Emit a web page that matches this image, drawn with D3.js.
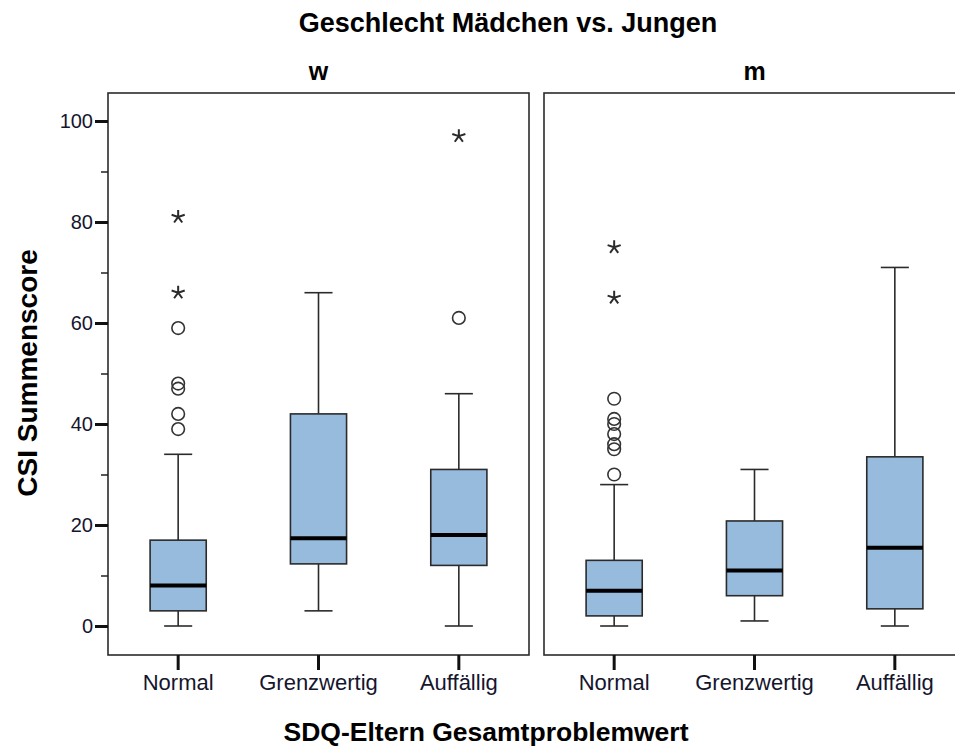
<!DOCTYPE html>
<html>
<head>
<meta charset="utf-8">
<script src="https://cdn.jsdelivr.net/npm/d3@7"></script>
<style>
  body { margin: 0; background: #fff; }
  svg text { font-family: Arial, "Liberation Sans", sans-serif; }
</style>
</head>
<body>
<svg id="chart" width="955" height="749"></svg>
<script>
// categories and panels
const categories = ['Normal', 'Grenzwertig', 'Auffällig'];
const panelKeys = ['w', 'm'];

// w (Mädchen)
const lowW = [0, 3, 0];
const q1W = [3, 12.3, 12];
const medW = [8, 17.4, 18];
const q3W = [17, 42, 31];
const highW = [34, 66, 46];
const circlesW = [[39, 42, 47, 48, 59], [], [61]];
const starsW = [[66, 81], [], [97]];

// m (Jungen)
const lowM = [0, 1, 0];
const q1M = [2, 6, 3.4];
const medM = [7, 11, 15.5];
const q3M = [13, 20.8, 33.5];
const highM = [28, 31, 71];
const circlesM = [[30, 35, 36, 38, 40, 41, 45], [], []];
const starsM = [[65, 75], [], []];

const yMajorTicks = [0, 20, 40, 60, 80, 100];
const yMinorTicks = [10, 30, 50, 70, 90];

const svg = d3.select('#chart');

const panelW = 421;
const panelTop = 93, panelBottom = 655;
const panelX = { w: 108, m: 544 };

const y = d3.scaleLinear().domain([0, 100]).range([626, 121]);
const x = d3.scaleBand().domain(categories).range([0, panelW]);
const boxW = x.bandwidth() * 0.4;

// 5-armed asterisk for extreme values
const asterisk = {
  draw(ctx, size) {
    const r = Math.sqrt(size) / 2;
    for (let i = 0; i < 5; i++) {
      const a = -Math.PI / 2 + i * 2 * Math.PI / 5;
      ctx.moveTo(0, 0);
      ctx.lineTo(r * Math.cos(a), r * Math.sin(a));
    }
  }
};

function buildRows(low, q1, med, q3, high, circles, stars) {
  return categories.map((c, i) => ({
    cat: c, low: low[i], q1: q1[i], med: med[i], q3: q3[i], high: high[i],
    circles: circles[i], stars: stars[i]
  }));
}

const panelData = {
  w: buildRows(lowW, q1W, medW, q3W, highW, circlesW, starsW),
  m: buildRows(lowM, q1M, medM, q3M, highM, circlesM, starsM)
};

// titles
svg.append('text')
  .attr('x', 508).attr('y', 32)
  .attr('text-anchor', 'middle')
  .attr('font-size', 27).attr('font-weight', 'bold')
  .text('Geschlecht Mädchen vs. Jungen');

svg.append('text')
  .attr('x', 486).attr('y', 741)
  .attr('text-anchor', 'middle')
  .attr('font-size', 26.5).attr('font-weight', 'bold')
  .text('SDQ-Eltern Gesamtproblemwert');

svg.append('text')
  .attr('transform', 'translate(37,373) rotate(-90)')
  .attr('text-anchor', 'middle')
  .attr('font-size', 28).attr('font-weight', 'bold')
  .text('CSI Summenscore');

panelKeys.forEach((key, pi) => {
  const g = svg.append('g').attr('transform', `translate(${panelX[key]},0)`);

  g.append('text')
    .attr('x', panelW / 2).attr('y', 80)
    .attr('text-anchor', 'middle')
    .attr('font-size', 25).attr('font-weight', 'bold')
    .text(key);

  g.append('rect')
    .attr('x', 0).attr('y', panelTop)
    .attr('width', panelW).attr('height', panelBottom - panelTop)
    .attr('fill', 'none').attr('stroke', '#2b2b2b').attr('stroke-width', 1.6);

  // x axis
  const xAxis = g.append('g')
    .attr('transform', `translate(0,${panelBottom})`)
    .call(d3.axisBottom(x).tickSize(15).tickSizeOuter(0).tickPadding(4));
  xAxis.select('.domain').remove();
  xAxis.selectAll('.tick line').attr('stroke', '#111').attr('stroke-width', 3);
  xAxis.selectAll('.tick text')
    .attr('font-size', 22).attr('fill', '#15152e')
    .attr('font-family', 'Arial, "Liberation Sans", sans-serif');

  // y axis only on first panel
  if (pi === 0) {
    const yAxis = g.append('g')
      .call(d3.axisLeft(y).tickValues(yMajorTicks).tickSize(13).tickPadding(2));
    yAxis.select('.domain').remove();
    yAxis.selectAll('.tick line').attr('stroke', '#111').attr('stroke-width', 3);
    yAxis.selectAll('.tick text')
      .attr('font-size', 20).attr('fill', '#15152e')
      .attr('font-family', 'Arial, "Liberation Sans", sans-serif');

    const yMinor = g.append('g')
      .call(d3.axisLeft(y).tickValues(yMinorTicks).tickSize(7).tickFormat(''));
    yMinor.select('.domain').remove();
    yMinor.selectAll('.tick line').attr('stroke', '#222').attr('stroke-width', 1.5);
  }

  const boxes = g.selectAll('.box')
    .data(panelData[key])
    .join('g')
    .attr('class', 'box')
    .attr('transform', d => `translate(${x(d.cat) + x.bandwidth() / 2},0)`);

  // whiskers
  boxes.append('line')
    .attr('x1', 0).attr('x2', 0)
    .attr('y1', d => y(d.high)).attr('y2', d => y(d.q3))
    .attr('stroke', '#2b2b2b').attr('stroke-width', 1.6);
  boxes.append('line')
    .attr('x1', 0).attr('x2', 0)
    .attr('y1', d => y(d.q1)).attr('y2', d => y(d.low))
    .attr('stroke', '#2b2b2b').attr('stroke-width', 1.6);
  boxes.append('line')
    .attr('x1', -boxW / 4).attr('x2', boxW / 4)
    .attr('y1', d => y(d.high)).attr('y2', d => y(d.high))
    .attr('stroke', '#2b2b2b').attr('stroke-width', 1.6);
  boxes.append('line')
    .attr('x1', -boxW / 4).attr('x2', boxW / 4)
    .attr('y1', d => y(d.low)).attr('y2', d => y(d.low))
    .attr('stroke', '#2b2b2b').attr('stroke-width', 1.6);

  // box
  boxes.append('rect')
    .attr('x', -boxW / 2).attr('width', boxW)
    .attr('y', d => y(d.q3)).attr('height', d => y(d.q1) - y(d.q3))
    .attr('fill', '#97bbdc').attr('stroke', '#2b2b2b').attr('stroke-width', 1.6);

  // median
  boxes.append('line')
    .attr('x1', -boxW / 2).attr('x2', boxW / 2)
    .attr('y1', d => y(d.med)).attr('y2', d => y(d.med))
    .attr('stroke', '#000').attr('stroke-width', 4);

  // outliers
  boxes.selectAll('.out')
    .data(d => d.circles)
    .join('circle')
    .attr('class', 'out')
    .attr('cx', 0).attr('cy', v => y(v)).attr('r', 6.3)
    .attr('fill', 'none').attr('stroke', '#333').attr('stroke-width', 1.6);

  boxes.selectAll('.ext')
    .data(d => d.stars)
    .join('path')
    .attr('class', 'ext')
    .attr('transform', v => `translate(0,${y(v)})`)
    .attr('d', d3.symbol().type(asterisk).size(190))
    .attr('fill', 'none').attr('stroke', '#2b2b2b').attr('stroke-width', 2);
});
</script>
</body>
</html>
